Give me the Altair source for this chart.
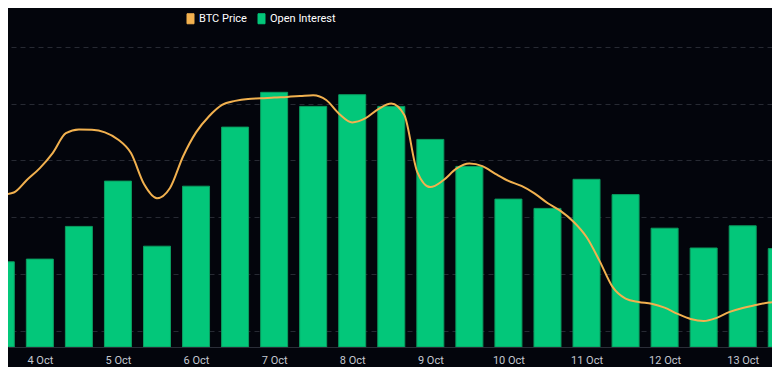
import altair as alt
import pandas as pd

# ---- data -------------------------------------------------------------
# Open interest (arbitrary units), one bar every 12h
oi_start = "2025-10-03T12:00:00Z"
open_interest = [28.4, 29.3, 40.2, 55.3, 33.6, 53.6, 73.3, 84.9, 80.2, 84.1,
                 80.2, 69.2, 60.2, 49.3, 46.2, 55.9, 50.8, 39.6, 33.0, 40.4, 32.8]

# BTC price (USD), one point every 4h
price_start = "2025-10-03T08:00:00Z"
btc_price = [120750, 120780, 120870, 121310, 121730, 122270, 122960, 123090,
             123080, 122990, 122740, 122260, 121170, 120670, 121030, 122140,
             122990, 123560, 123960, 124100, 124170, 124190, 124220, 124240,
             124270, 124300, 124130, 123640, 123340, 123480, 123810, 124010,
             123600, 121590, 121060, 121300, 121710, 121890, 121800, 121530,
             121280, 121100, 120840, 120500, 120220, 119840, 119300, 118460,
             117540, 117130, 117010, 116950, 116810, 116590, 116410, 116340,
             116450, 116660, 116800, 116900, 116990, 117020]

day_ticks = ["2025-10-%02dT00:00:00Z" % d for d in range(4, 14)]
x_window = ["2025-10-03T14:12:45Z", "2025-10-13T09:00:00Z"]
price_domain = [115422, 126000]
price_grid = [116000, 118000, 120000, 122000, 124000, 126000]
series_names = ["BTC Price", "Open Interest"]
series_colors = ["#f2b14f", "#03c77a"]

# ---- tables -----------------------------------------------------------
def ms(s):
    return int(pd.Timestamp(s).value // 10**6)

bars = pd.DataFrame({
    "time": pd.date_range(oi_start, periods=len(open_interest), freq="12h").strftime("%Y-%m-%dT%H:%M:%SZ"),
    "value": open_interest,
    "series": "Open Interest",
})
prices = pd.DataFrame({
    "time": pd.date_range(price_start, periods=len(btc_price), freq="4h").strftime("%Y-%m-%dT%H:%M:%SZ"),
    "price": btc_price,
    "series": "BTC Price",
})

BG = "#03050c"
GRID = "#272a33"
FONT = "Roboto"

x_scale = alt.Scale(type="utc", domain=[ms(v) for v in x_window], nice=False, padding=0)
x_axis = alt.Axis(values=[ms(v) for v in day_ticks], format="%-d %b", title=None,
                  labelColor="#c4c8d0", labelFontSize=11, labelFont=FONT,
                  tickSize=0, labelPadding=7, domainColor="#2a2e38", grid=False,
                  labelFlush=False)

color_scale = alt.Scale(domain=series_names, range=series_colors)
legend = alt.Legend(orient="none", legendX=177, legendY=-34, direction="horizontal",
                    title=None, labelColor="#ffffff", labelFontSize=11,
                    labelFont=FONT, symbolType="M-0.7,-1H0.7V1H-0.7Z",
                    symbolSize=100, symbolStrokeWidth=1, symbolOpacity=1,
                    labelOffset=3, columnPadding=9, padding=0)

bar_layer = alt.Chart(bars).mark_bar(
    width=27, clip=True, stroke="#0b9c5f", strokeWidth=1
).encode(
    x=alt.X("time:T", scale=x_scale, axis=x_axis),
    y=alt.Y("value:Q", scale=alt.Scale(domain=[0, 100], nice=False, zero=True), axis=None),
    color=alt.Color("series:N", scale=color_scale, legend=legend),
)

line_layer = alt.Chart(prices).mark_line(
    interpolate="monotone", strokeWidth=2, clip=True
).encode(
    x=alt.X("time:T", scale=x_scale),
    y=alt.Y("price:Q", scale=alt.Scale(domain=price_domain, nice=False, zero=False),
            axis=alt.Axis(orient="right", values=price_grid, labels=False, ticks=False,
                          domain=False, title=None, grid=True, gridColor=GRID,
                          gridDash=[5, 4], gridWidth=1)),
    color=alt.Color("series:N", scale=color_scale, legend=legend),
)

chart = alt.layer(bar_layer, line_layer).resolve_scale(y="independent").properties(
    width=764, height=300, background=BG,
    padding={"left": 0, "right": 0, "top": 39, "bottom": 20},
    autosize=alt.AutoSizeParams(type="none"),
).configure_view(stroke=None)

chart.save("out.html", embed_options={"renderer": "svg", "actions": False})
